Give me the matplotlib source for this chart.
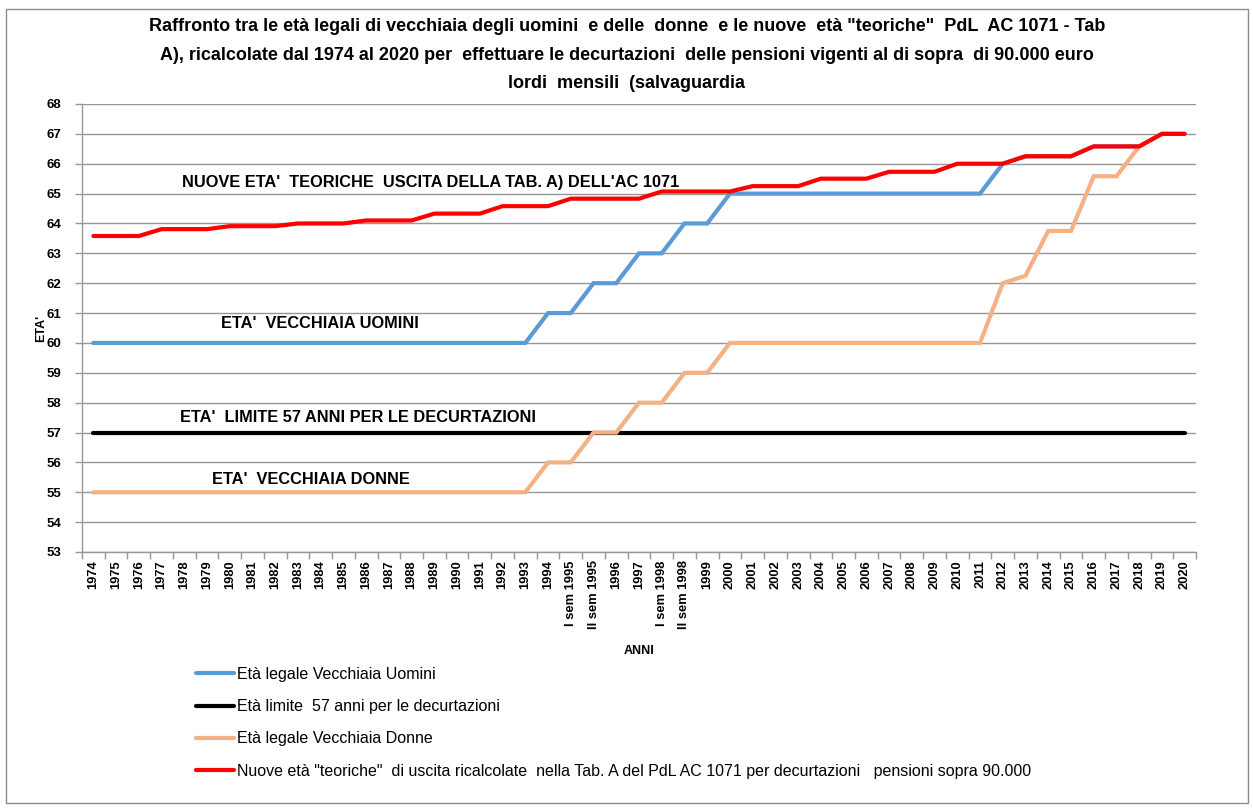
import matplotlib
matplotlib.use("Agg")
import matplotlib.pyplot as plt
from matplotlib import font_manager
from matplotlib.lines import Line2D
from matplotlib.patches import Rectangle

# ---------------- data ----------------
categorie = ['1974', '1975', '1976', '1977', '1978', '1979', '1980', '1981', '1982',
             '1983', '1984', '1985', '1986', '1987', '1988', '1989', '1990', '1991',
             '1992', '1993', '1994', 'I sem 1995', 'II sem 1995', '1996', '1997',
             'I sem 1998', 'II sem 1998', '1999', '2000', '2001', '2002', '2003',
             '2004', '2005', '2006', '2007', '2008', '2009', '2010', '2011', '2012',
             '2013', '2014', '2015', '2016', '2017', '2018', '2019', '2020']

eta_uomini = [60, 60, 60, 60, 60, 60, 60, 60, 60, 60, 60, 60, 60, 60, 60, 60, 60, 60, 60, 60,
              61, 61, 62, 62, 63, 63, 64, 64,
              65, 65, 65, 65, 65, 65, 65, 65, 65, 65, 65, 65,
              66, 66.25, 66.25, 66.25, 66.58, 66.58, 66.58, 67, 67]

eta_limite = [57, 57, 57, 57, 57, 57, 57, 57, 57, 57, 57, 57, 57, 57, 57, 57, 57, 57, 57, 57,
              57, 57, 57, 57, 57, 57, 57, 57, 57, 57, 57, 57, 57, 57, 57, 57, 57, 57, 57, 57,
              57, 57, 57, 57, 57, 57, 57, 57, 57]

eta_donne = [55, 55, 55, 55, 55, 55, 55, 55, 55, 55, 55, 55, 55, 55, 55, 55, 55, 55, 55, 55,
             56, 56, 57, 57, 58, 58, 59, 59,
             60, 60, 60, 60, 60, 60, 60, 60, 60, 60, 60, 60,
             62, 62.25, 63.75, 63.75, 65.58, 65.58, 66.58, 67, 67]

eta_nuove = [63.58, 63.58, 63.58, 63.81, 63.81, 63.81, 63.91, 63.91, 63.91,
             64.0, 64.0, 64.0, 64.1, 64.1, 64.1, 64.33, 64.33, 64.33,
             64.58, 64.58, 64.58, 64.83, 64.83, 64.83, 64.83,
             65.07, 65.07, 65.07, 65.07, 65.25, 65.25, 65.25,
             65.5, 65.5, 65.5, 65.73, 65.73, 65.73, 66.0, 66.0, 66.0,
             66.25, 66.25, 66.25, 66.58, 66.58, 66.58, 67, 67]

etichette_serie = ['Età legale Vecchiaia Uomini',
                   'Età limite  57 anni per le decurtazioni',
                   'Età legale Vecchiaia Donne',
                   'Nuove età "teoriche"  di uscita ricalcolate  nella Tab. A del PdL AC 1071 per decurtazioni   pensioni sopra 90.000']

titolo = ('Raffronto tra le età legali di vecchiaia degli uomini  e delle  donne  e le nuove  età "teoriche"  PdL  AC 1071 - Tab\n'
          'A), ricalcolate dal 1974 al 2020 per  effettuare le decurtazioni  delle pensioni vigenti al di sopra  di 90.000 euro\n'
          'lordi  mensili  (salvaguardia')

# ---------------- fonts ----------------
def pick(names):
    for n in names:
        try:
            font_manager.findfont(font_manager.FontProperties(family=n), fallback_to_default=False)
            return n
        except Exception:
            pass
    return 'DejaVu Sans'

FONT = pick(['Liberation Sans Narrow', 'Liberation Sans', 'DejaVu Sans'])
plt.rcParams['font.family'] = [FONT, 'DejaVu Sans']

W, H = 1253, 809
fig = plt.figure(figsize=(W / 100, H / 100), dpi=100)
fig.patch.set_facecolor('white')
fig.add_artist(Rectangle((6 / W, 1 - 803 / H), (1248 - 6) / W, (803 - 9) / H,
                         transform=fig.transFigure, fill=False, edgecolor='#8c8c8c', lw=1.0))

L, R, T, B = 82, 1196, 104, 552
ax = fig.add_axes([L / W, 1 - B / H, (R - L) / W, (B - T) / H])

x = list(range(len(categorie)))
colori = ['#5B9BD5', '#000000', '#F4B183', '#FF0000']
serie = [eta_uomini, eta_limite, eta_donne, eta_nuove]
for vals, c in zip(serie, colori):
    ax.plot(x, vals, color=c, lw=3.0, solid_capstyle='round', solid_joinstyle='miter', zorder=3)

ax.set_xlim(-0.5, len(categorie) - 0.5)
ax.set_ylim(53, 68)
ax.set_yticks(range(53, 69))
ax.set_yticklabels([str(v) for v in range(53, 69)], fontsize=9.5, fontweight='bold')
ax.yaxis.grid(True, color='#969696', lw=1.0)
ax.set_axisbelow(True)

ax.set_xticks([i - 0.5 for i in range(len(categorie) + 1)])
ax.set_xticklabels([])
ax.set_xticks(x, minor=True)
ax.set_xticklabels(categorie, minor=True, rotation=90, fontsize=9.3, fontweight='bold')
ax.tick_params(axis='x', which='minor', length=0, pad=6)
ax.tick_params(axis='both', which='major', length=5, color='#969696', width=1.0)
ax.tick_params(axis='y', pad=10)

for s in ['top', 'right']:
    ax.spines[s].set_visible(False)
for s in ['left', 'bottom']:
    ax.spines[s].set_color('#969696')
    ax.spines[s].set_linewidth(1.0)

ax.set_xlabel('ANNI', fontsize=9, fontweight='bold')
ax.xaxis.set_label_coords(0.5, 1 - (645 - T) / (B - T), transform=ax.transAxes)
ax.set_ylabel("ETA'", fontsize=9, fontweight='bold')
ax.yaxis.set_label_coords((47 - L) / (R - L), 0.5, transform=ax.transAxes)

def ftext(px, py, s, **kw):
    fig.text(px / W, 1 - py / H, s, **kw)

ftext(182, 182, "NUOVE ETA'  TEORICHE  USCITA DELLA TAB. A) DELL'AC 1071", fontsize=11.8,
      fontweight='bold', va='center', ha='left')
ftext(221, 323, "ETA'  VECCHIAIA UOMINI", fontsize=11.8, fontweight='bold', va='center', ha='left')
ftext(180, 418, "ETA'  LIMITE 57 ANNI PER LE DECURTAZIONI", fontsize=11.8, fontweight='bold',
      va='center', ha='left')
ftext(212, 480, "ETA'  VECCHIAIA DONNE", fontsize=11.8, fontweight='bold', va='center', ha='left')

ftext(627, 55, titolo, fontsize=13, fontweight='bold', ha='center', va='center', linespacing=1.85)

handles = [Line2D([0], [0], color=c, lw=3.0, solid_capstyle='round') for c in colori]
fig.legend(handles, etichette_serie, loc='upper left', frameon=False,
           bbox_to_anchor=(196 / W, 1 - 667 / H), fontsize=11.5, handlelength=2.4,
           handletextpad=0.15, labelspacing=1.08, borderaxespad=0, borderpad=0)

fig.savefig('out.png', dpi=100, facecolor='white')
